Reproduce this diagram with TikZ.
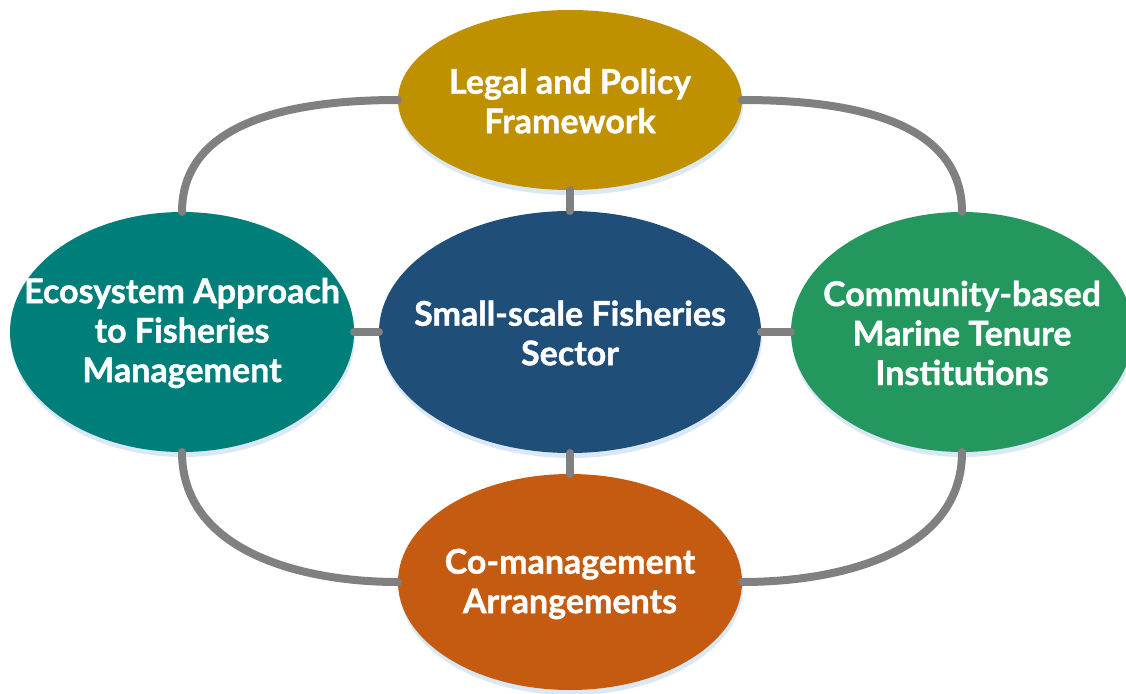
\documentclass[tikz,border=0pt]{standalone}
\usepackage{fontspec}
\setmainfont{Lato}[BoldFeatures={FakeBold=1.2}]
\usetikzlibrary{shapes.geometric,shadows}

\definecolor{legalcol}{RGB}{191,144,0}
\definecolor{ssfcol}{RGB}{31,78,121}
\definecolor{ecocol}{RGB}{0,126,122}
\definecolor{cbmtcol}{RGB}{35,151,94}
\definecolor{comgmtcol}{RGB}{197,90,17}
\definecolor{shadecol}{RGB}{218,231,245}
\definecolor{linkcol}{RGB}{128,128,128}

\tikzset{
  blob/.style={ellipse, inner sep=0pt, outer sep=0pt,
    general shadow={shadow xshift=1pt, shadow yshift=-5pt, fill=shadecol}},
  caption/.style={text=white, align=center, inner sep=0pt,
    font=\fontsize{34}{39.5}\selectfont\bfseries},
  link/.style={draw=linkcol, line width=8pt, line cap=round}
}

\begin{document}
\begin{tikzpicture}[x=1pt,y=-1pt]
  \useasboundingbox (0,0) rectangle (1126,693);

  % the five ellipses
  \node[blob, fill=legalcol, minimum width=344pt, minimum height=180pt]
    (legal) at (570,100) {};
  \node[blob, fill=ssfcol, minimum width=382pt, minimum height=242pt]
    (ssf) at (570,332) {};
  \node[blob, fill=ecocol, minimum width=344pt, minimum height=240pt]
    (eco) at (182,332) {};
  \node[blob, fill=cbmtcol, minimum width=342pt, minimum height=240pt]
    (cbmt) at (962,332) {};
  \node[blob, fill=comgmtcol, minimum width=344pt, minimum height=216pt]
    (comgmt) at (570,582) {};

  % their captions
  \node[caption] (legal-t) at (570,101) {Legal and Policy\\Framework};
  \node[caption] (ssf-t) at (570,333) {Small-scale Fisheries\\Sector};
  \node[caption] (eco-t) at (182,333) {Ecosystem Approach\\to Fisheries\\Management};
  \node[caption] (cbmt-t) at (962,333) {Community-based\\Marine Tenure\\Institutions};
  \node[caption] (comgmt-t) at (570,584) {Co-management\\Arrangements};

  % short links to the central sector
  \draw[link] (legal.south) -- (ssf.north);
  \draw[link] (eco.east) -- (ssf.west);
  \draw[link] (ssf.east) -- (cbmt.west);
  \draw[link] (ssf.south) -- (comgmt.north);

  % outer ring of curved links
  \draw[link] (legal.west) to[out=180,in=90] (eco.north);
  \draw[link] (legal.east) to[out=0,in=90] (cbmt.north);
  \draw[link] (eco.south) to[out=-90,in=180] (comgmt.west);
  \draw[link] (cbmt.south) to[out=-90,in=0] (comgmt.east);
\end{tikzpicture}
\end{document}
